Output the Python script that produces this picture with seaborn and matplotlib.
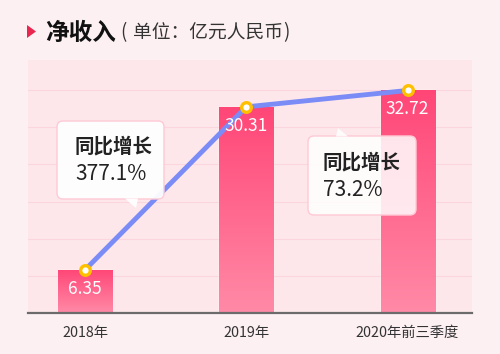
import numpy as np
import pandas as pd
import matplotlib
matplotlib.use("Agg")
import matplotlib.pyplot as plt
import seaborn as sns
from matplotlib.patches import FancyBboxPatch, Polygon
from matplotlib.colors import LinearSegmentedColormap
from matplotlib.transforms import Affine2D

# ---- data ----
categories = ['2018年', '2019年', '2020年前三季度']
net_income = [6.35, 30.31, 32.72]
growth_title = '同比增长'
growth_labels = ['377.1%', '73.2%']
title_main = '净收入'
title_unit = ['(', '单位：亿元人民币', ')']

sns.set_theme(style='white')
plt.rcParams['font.family'] = ['Noto Sans CJK SC', 'DejaVu Sans']

W, H = 500, 354
fig = plt.figure(figsize=(W / 100, H / 100), dpi=100, facecolor='#fdf0f3')
# pixel transform (origin top-left)
PX = Affine2D().scale(1 / 100, -1 / 100).translate(0, H / 100) + fig.dpi_scale_trans

ax = fig.add_axes([28 / W, 1 - 313 / H, 444 / W, 253 / H])
ax.set_facecolor('#fde7eb')

df = pd.DataFrame({'cat': categories, 'val': net_income})
sns.barplot(data=df, x='cat', y='val', ax=ax, width=0.335, color='#ff5a86',
            saturation=1, zorder=2)

# gradient fill on bars
cmap = LinearSegmentedColormap.from_list('pk', ['#ff8aa7', '#ff4677'])
grad = np.linspace(0, 1, 256).reshape(-1, 1)
for p in ax.patches:
    x0, y0 = p.get_x(), p.get_y()
    w, h = p.get_width(), p.get_height()
    im = ax.imshow(grad, extent=[x0, x0 + w, y0, y0 + h], cmap=cmap,
                   aspect='auto', origin='lower', zorder=2.1)
    im.set_clip_path(p)

xs = np.arange(len(categories))
sns.lineplot(x=xs, y=net_income, ax=ax, color='#7b8cf7', lw=3.5, zorder=4)
ax.scatter(xs, net_income, s=48, facecolor='white', edgecolor='#ffc000',
           linewidth=2.4, zorder=5)

for i, v in enumerate(net_income):
    ax.annotate(f'{v:.2f}', (i, v), xytext=(0, -13.5), textcoords='offset points',
                ha='center', va='center', color='white', fontsize=12.5, zorder=6)

ax.set_xlim(-0.354, 2.40)
ax.set_ylim(0, 37.2)
ax.set_yticks(np.arange(1, 7) * 5.46)
ax.set_yticklabels([])
ax.yaxis.grid(True, color='#fcd6de', lw=0.8)
ax.set_axisbelow(True)
ax.set_xlabel('')
ax.set_ylabel('')
for s in ['top', 'left', 'right']:
    ax.spines[s].set_visible(False)
ax.spines['bottom'].set_color('#6b6b6b')
ax.spines['bottom'].set_linewidth(1.6)
ax.tick_params(axis='x', length=0, pad=9, labelsize=10.3, labelcolor='#333333')
ax.tick_params(axis='y', length=0)

# ---- title ----
fig.patches.append(Polygon([[27, 25], [27, 38], [36, 31.5]], closed=True,
                           transform=PX, facecolor='#e8264f', edgecolor='none'))
fig.text(45 / W, 1 - 33 / H, title_main, fontsize=17, fontweight='bold',
         color='#111111', va='center', ha='left')
fig.text(120 / W, 1 - 33 / H, title_unit[0], fontsize=13.5, color='#333333',
         va='center', ha='left')
fig.text(133 / W, 1 - 33 / H, title_unit[1], fontsize=13.5, color='#333333',
         va='center', ha='left')
fig.text(283 / W, 1 - 33 / H, title_unit[2], fontsize=13.5, color='#333333',
         va='center', ha='left')

# ---- callouts ----
def callout(x0, y0, x1, y1, pointer, alpha, lines):
    box = FancyBboxPatch((x0, y0), x1 - x0, y1 - y0,
                         boxstyle='round,pad=0,rounding_size=6', transform=PX,
                         facecolor=(1, 1, 1, alpha), edgecolor='#ffc9d5', lw=1.0,
                         zorder=7)
    fig.patches.append(box)
    tri = Polygon(pointer, closed=True, transform=PX, facecolor=(1, 1, 1, alpha),
                  edgecolor='none', zorder=7.1)
    fig.patches.append(tri)
    for (tx, ty, t, fs, fw) in lines:
        fig.text(tx / W, 1 - ty / H, t, fontsize=fs, fontweight=fw, color='#222222',
                 va='center', ha='left', zorder=8)

callout(57, 121, 164, 199, [[125, 198.5], [138, 198.5], [136, 208]], 0.95,
        [(75, 147, growth_title, 14, 'bold'), (75, 174, growth_labels[0], 15, 'normal')])
callout(308, 136, 416, 215, [[336, 136.5], [348, 136.5], [338, 128]], 0.85,
        [(323, 163, growth_title, 14, 'bold'), (323, 190, growth_labels[1], 15, 'normal')])

fig.savefig('out.png', dpi=100, facecolor=fig.get_facecolor())
